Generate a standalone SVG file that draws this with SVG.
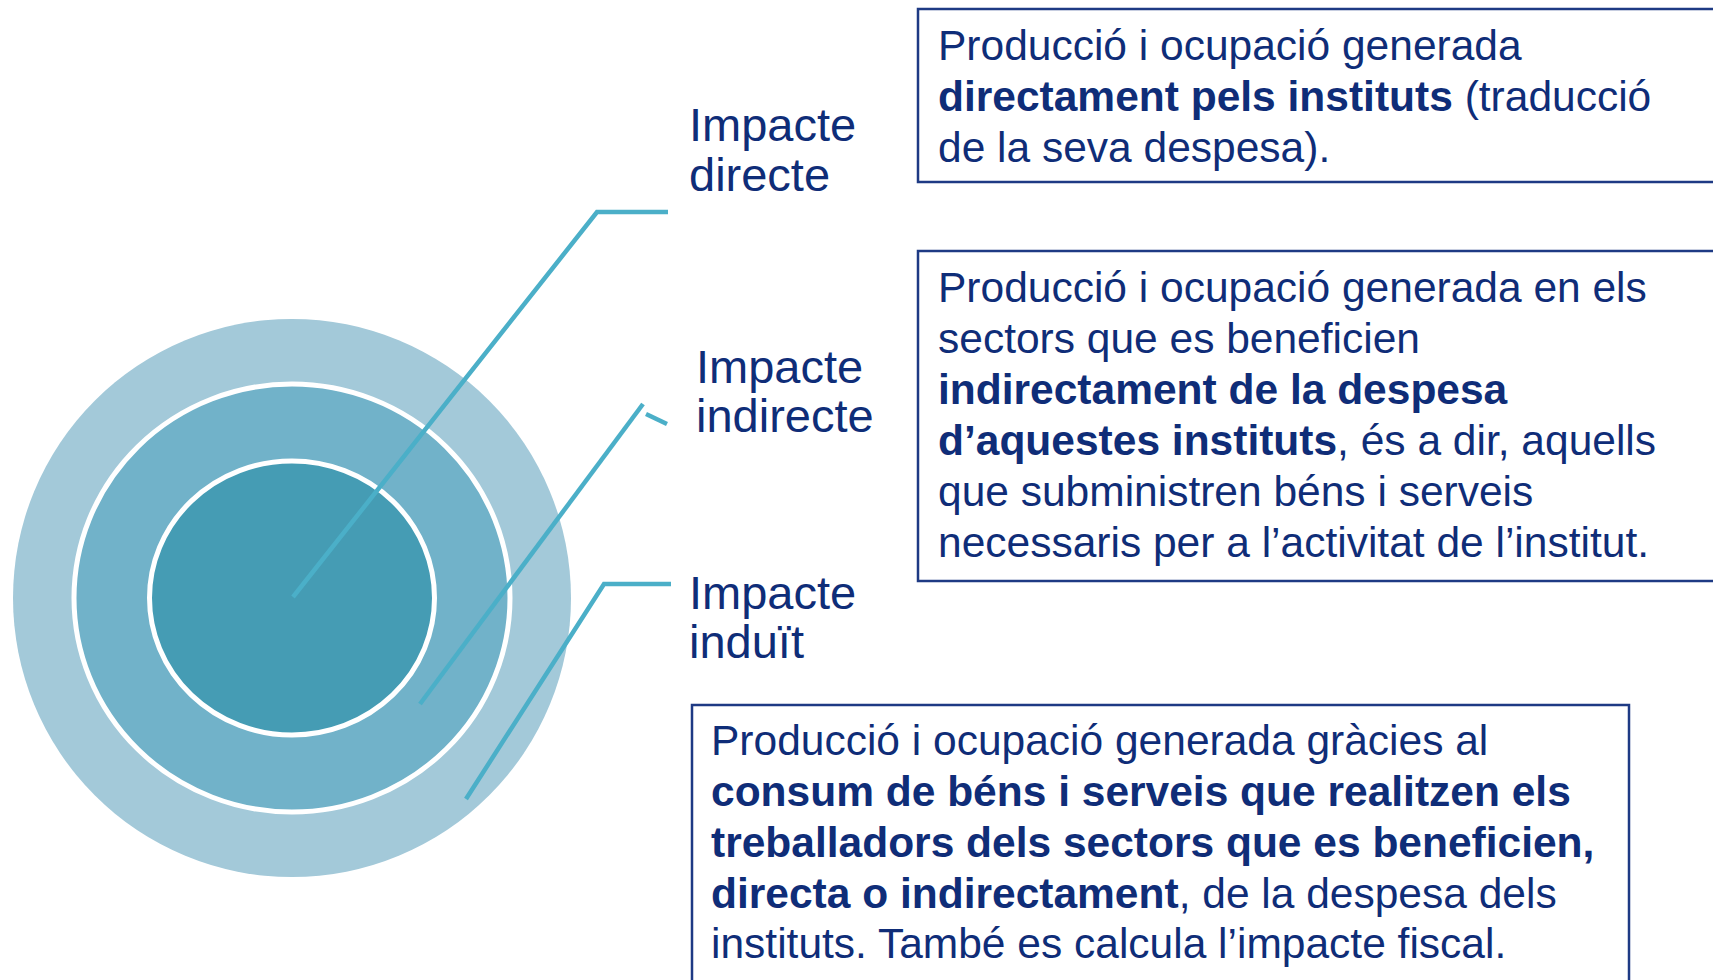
<svg xmlns="http://www.w3.org/2000/svg" width="1713" height="980" viewBox="0 0 1713 980">
<style>
.lbl{font-family:"Liberation Sans",Arial,sans-serif;font-size:47px;fill:#0F2D78}
.txt{font-family:"Liberation Sans",Arial,sans-serif;font-size:42.5px;fill:#0F2D78}
.b{font-weight:bold}
.box{fill:#fff;stroke:#1E3A84;stroke-width:2.5}
.conn{fill:none;stroke:#4BAFC8;stroke-width:4.5}
</style>
<rect width="1713" height="980" fill="#fff"/>
<g id="circles">
<ellipse cx="292" cy="598" rx="279" ry="279" fill="#A3C9D9"/>
<ellipse cx="292" cy="598" rx="218" ry="214" fill="#71B2C9" stroke="#fff" stroke-width="5"/>
<ellipse cx="292" cy="598" rx="142.5" ry="137" fill="#459CB4" stroke="#fff" stroke-width="5"/>
</g>
<g id="connectors">
<polyline class="conn" points="293,597 597,212 668,212"/>
<line class="conn" x1="420" y1="704" x2="643" y2="404"/>
<line class="conn" x1="646" y1="414" x2="667" y2="424"/>
<polyline class="conn" points="466,799 604,584 671,584"/>
</g>
<g id="label-directe">
<text class="lbl" x="689" y="141">Impacte</text>
<text class="lbl" x="689" y="191">directe</text>
</g>
<g id="label-indirecte">
<text class="lbl" x="696" y="383">Impacte</text>
<text class="lbl" x="696" y="432">indirecte</text>
</g>
<g id="label-induit">
<text class="lbl" x="689" y="609">Impacte</text>
<text class="lbl" x="689" y="658">induït</text>
</g>
<g id="box-directe">
<rect class="box" x="918" y="9" width="810" height="173"/>
<text class="txt" x="938" y="60">Producció i ocupació generada</text>
<text class="txt" x="938" y="111"><tspan class="b">directament pels instituts</tspan> (traducció</text>
<text class="txt" x="938" y="162">de la seva despesa).</text>
</g>
<g id="box-indirecte">
<rect class="box" x="918" y="251" width="810" height="330"/>
<text class="txt" x="938" y="302">Producció i ocupació generada en els</text>
<text class="txt" x="938" y="353">sectors que es beneficien</text>
<text class="txt b" x="938" y="404">indirectament de la despesa</text>
<text class="txt" x="938" y="455"><tspan class="b">d’aquestes instituts</tspan>, és a dir, aquells</text>
<text class="txt" x="938" y="506">que subministren béns i serveis</text>
<text class="txt" x="938" y="557">necessaris per a l’activitat de l’institut.</text>
</g>
<g id="box-induit">
<rect class="box" x="692" y="705" width="937" height="290"/>
<text class="txt" x="711" y="755">Producció i ocupació generada gràcies al</text>
<text class="txt b" x="711" y="806">consum de béns i serveis que realitzen els</text>
<text class="txt b" x="711" y="857">treballadors dels sectors que es beneficien,</text>
<text class="txt" x="711" y="908"><tspan class="b">directa o indirectament</tspan>, de la despesa dels</text>
<text class="txt" x="711" y="958">instituts. També es calcula l’impacte fiscal.</text>
</g>
</svg>
